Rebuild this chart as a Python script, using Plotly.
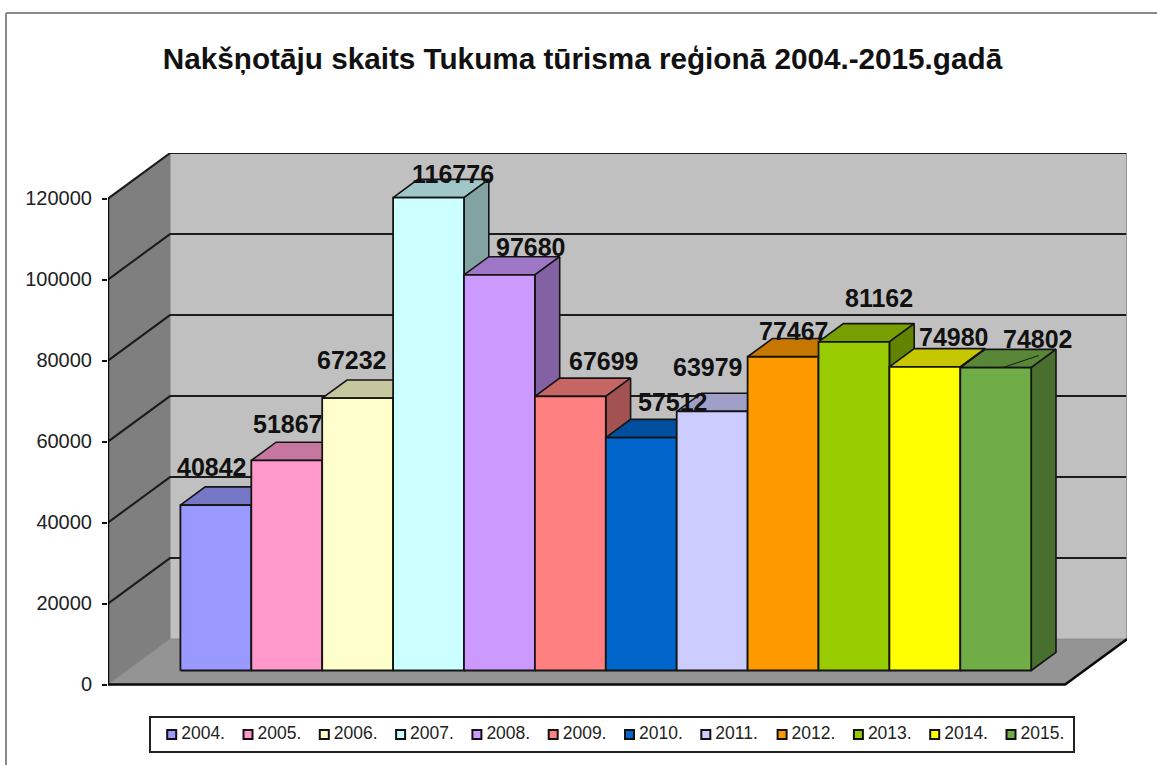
import plotly.graph_objects as go

years = ["2004.", "2005.", "2006.", "2007.", "2008.", "2009.", "2010.", "2011.", "2012.", "2013.", "2014.", "2015."]
values = [40842, 51867, 67232, 116776, 97680, 67699, 57512, 63979, 77467, 81162, 74980, 74802]
front_colors = ["#9999ff", "#ff99cc", "#ffffcc", "#ccffff", "#cc99ff", "#ff8080",
                "#0066cc", "#ccccff", "#ff9900", "#99cc00", "#ffff00", "#70ad47"]
y_ticks = [0, 20000, 40000, 60000, 80000, 100000, 120000]
title_text = "Nakšņotāju skaits Tukuma tūrisma reģionā 2004.-2015.gadā"

# Label offsets from the top centre of each bar's front face, in pixels
label_dx = [-4, 1, -6, 24, 32, 34, 32, -4, 11, 25, 29, 42]
label_dy = [38, 36, 38, 24, 28, 35, 36, 44, 26, 44, 30, 29]

# Figure geometry (pixels)
W, H = 1157, 765
L, R, T, B = 108, 1127, 153, 684.6  # L/R/T bound the plot area, B is the value-zero line
UNIT_PX = 70.9                      # width of one category
VAL_PX = 486 / 120000               # pixels per unit of value
DEPTH_PX_X, DEPTH_PX_Y = 62, 45.5
FLOOR_CATS = 13.5
GAP = 0.75
BAR_D0, BAR_D1 = 0.31, 0.71

DX = DEPTH_PX_X / UNIT_PX
DY = DEPTH_PX_Y / VAL_PX
X_MAX = (R - L) / UNIT_PX
Y_MAX = (B - T) / VAL_PX
Y_MIN = -(H - B) / VAL_PX


def proj(cat, val, depth):
    return cat + depth * DX, val + depth * DY


def shade(hex_color, f):
    c = [int(hex_color[i:i + 2], 16) for i in (1, 3, 5)]
    return "rgb({},{},{})".format(*[round(v * f) for v in c])


def poly(corners, fill, line_color, width, name=None):
    xs, ys = zip(*[proj(*c) for c in corners + corners[:1]])
    return go.Scatter(x=xs, y=ys, mode="lines", fill="toself", fillcolor=fill, name=name,
                      line=dict(color=line_color, width=width), hoverinfo="skip",
                      showlegend=False, cliponaxis=False)


def stroke(corners, color, width):
    xs, ys = zip(*[proj(*c) for c in corners])
    return go.Scatter(x=xs, y=ys, mode="lines", line=dict(color=color, width=width),
                      hoverinfo="skip", showlegend=False, cliponaxis=False)


fig = go.Figure()
top_val = y_ticks[-1]

# Walls and floor
fig.add_trace(poly([(0, 0, 1), (FLOOR_CATS, 0, 1), (FLOOR_CATS, top_val, 1), (0, top_val, 1)],
                   "#c0c0c0", "#c0c0c0", 1))
fig.add_trace(poly([(0, 0, 0), (0, 0, 1), (0, top_val, 1), (0, top_val, 0)],
                   "#7f7f7f", "#7f7f7f", 1))
fig.add_trace(poly([(0, 0, 0), (FLOOR_CATS, 0, 0), (FLOOR_CATS, 0, 1), (0, 0, 1)],
                   "#949494", "#8a8a8a", 1))

# Grid lines on the walls
for t in y_ticks[1:]:
    fig.add_trace(stroke([(0, t, 0), (0, t, 1), (FLOOR_CATS, t, 1)], "#1c1c1c", 2))
fig.add_trace(stroke([(FLOOR_CATS, 0, 1), (FLOOR_CATS, top_val, 1)], "#8c8c8c", 2))

# Front edges of the floor and the value axis
fig.add_trace(stroke([(0, top_val, 0), (0, 0, 0), (FLOOR_CATS, 0, 0), (FLOOR_CATS, 0, 1)], "#0a0a0a", 2.5))

# Bars, left to right
EDGE = "#141414"
for i, (v, col) in enumerate(zip(values, front_colors)):
    a, b = GAP + i, GAP + i + 1
    fig.add_trace(poly([(a, v, BAR_D0), (b, v, BAR_D0), (b, v, BAR_D1), (a, v, BAR_D1)],
                       shade(col, 0.78), EDGE, 1.6))
    fig.add_trace(poly([(b, 0, BAR_D0), (b, 0, BAR_D1), (b, v, BAR_D1), (b, v, BAR_D0)],
                       shade(col, 0.64), EDGE, 1.6))
    fig.add_trace(poly([(a, 0, BAR_D0), (b, 0, BAR_D0), (b, v, BAR_D0), (a, v, BAR_D0)],
                       col, EDGE, 1.8, name=years[i]))

# Leader line of the last label
last = len(values) - 1
lead_x = GAP + last + 0.5 + BAR_D0 * DX
lead_y = values[last] + BAR_D0 * DY
fig.add_trace(go.Scatter(x=[lead_x + 7 / UNIT_PX, lead_x + 43 / UNIT_PX],
                         y=[lead_y, lead_y + 12 / VAL_PX],
                         mode="lines", line=dict(color="#1a1a1a", width=1),
                         hoverinfo="skip", showlegend=False))

# Legend entries: marker plus text inside a ruled box
LEG_X0, LEG_PITCH, LEG_Y, LEG_TEXT_GAP = 171.7, 76.3, 734.5, 9.5
for i, (name, col) in enumerate(zip(years, front_colors)):
    mx = (LEG_X0 + i * LEG_PITCH - L) / UNIT_PX
    my = (B - LEG_Y) / VAL_PX
    fig.add_trace(go.Scatter(
        x=[mx], y=[my], mode="markers", name=name,
        marker=dict(symbol="square", size=9, color=col, line=dict(color="#111111", width=2)),
        hoverinfo="skip", showlegend=False, cliponaxis=False))
    fig.add_trace(go.Scatter(
        x=[mx + LEG_TEXT_GAP / UNIT_PX], y=[my], mode="text", name=name, text=[name],
        textposition="middle right",
        textfont=dict(family="Liberation Sans", size=17.5, color="#222222"),
        hoverinfo="skip", showlegend=False, cliponaxis=False))

# Data labels
annotations = []
for i, v in enumerate(values):
    ax, ay = proj(GAP + i + 0.5, v, BAR_D0)
    annotations.append(dict(x=ax, y=ay, xref="x", yref="y",
                            text=str(v), showarrow=False, xshift=label_dx[i], yshift=label_dy[i],
                            xanchor="center", yanchor="middle",
                            font=dict(family="Liberation Sans", size=25, color="#111111", weight=700)))

px_x = lambda p: (p - L) / (R - L)
px_y = lambda p: (H - p) / (H - T)
border = dict(type="line", xref="paper", yref="paper", line=dict(color="#8a8a8a", width=2))
shapes = [
    dict(border, x0=px_x(6), x1=px_x(6), y0=px_y(765), y1=px_y(13)),
    dict(border, x0=px_x(6), x1=px_x(1157), y0=px_y(13), y1=px_y(13)),
    dict(type="rect", xref="paper", yref="paper", x0=px_x(150), x1=px_x(1074),
         y0=px_y(752), y1=px_y(717), line=dict(color="#222222", width=2)),
]

fig.update_layout(
    width=W, height=H, autosize=False, showlegend=False,
    margin=dict(l=L, r=W - R, t=T, b=0, pad=0),
    paper_bgcolor="white", plot_bgcolor="white",
    title=dict(text=title_text, x=(162 + 1003) / 2 / W, y=1 - 59 / H, xanchor="center", yanchor="middle",
               xref="container",
               font=dict(family="Liberation Sans", size=29.7, color="#111111", weight=700)),
    xaxis=dict(visible=False, range=[0, X_MAX], fixedrange=True),
    yaxis=dict(range=[Y_MIN, Y_MAX], tickvals=y_ticks, ticktext=[str(t) for t in y_ticks],
               showgrid=False, zeroline=False, showline=False, ticks="outside", ticklen=5,
               tickwidth=2, tickcolor="#111111", ticklabelstandoff=6, ticklabelshift=-1, fixedrange=True,
               tickfont=dict(family="Liberation Sans", size=20, color="#222222")),
    annotations=annotations,
    shapes=shapes,
)

fig.write_html("out.html", config=dict(displayModeBar=False),
               post_script="document.body.style.margin='0';document.body.style.overflow='hidden';")
